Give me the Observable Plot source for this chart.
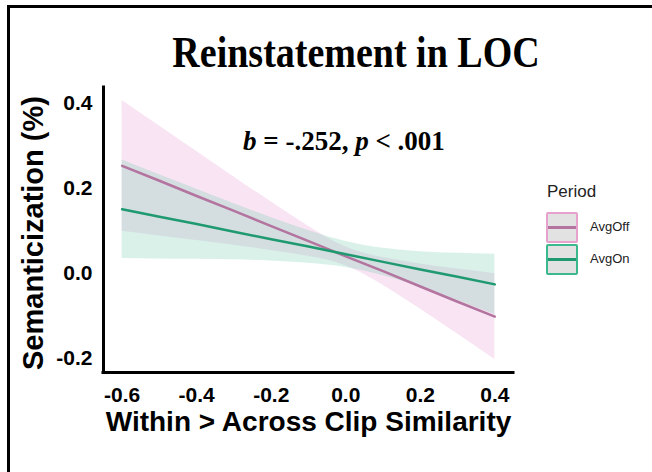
<!DOCTYPE html>
<html>
<head>
<meta charset="utf-8">
<script src="https://cdn.jsdelivr.net/npm/d3@7"></script>
<script src="https://cdn.jsdelivr.net/npm/@observablehq/plot@0.6"></script>
<style>
  html, body { margin: 0; padding: 0; background: #fff; }
  #wrap { position: relative; width: 652px; height: 472px; overflow: hidden; background: #fff; }
  #chart { position: absolute; left: 0; top: 0; }
  .border-top { position: absolute; left: 7px; top: 5px; width: 645px; height: 3px; background: #000; }
  .border-left { position: absolute; left: 7px; top: 5px; width: 3px; height: 467px; background: #000; }
  #title { position: absolute; left: 0; width: 712px; top: 30px; text-align: center;
           font-family: "Liberation Serif", "Times New Roman", serif; font-weight: bold; font-size: 38px; line-height: 46px; color: #000;
           transform: scaleY(1.15); transform-origin: 50% 70%; }
  #annot { position: absolute; left: 243px; top: 124px;
           font-family: "Liberation Serif", "Times New Roman", serif; font-weight: bold; font-size: 27px; line-height: 34px; color: #000; white-space: nowrap; }
  #legend { position: absolute; left: 546px; top: 181px; font-family: "Liberation Sans", Arial, sans-serif; color: #222; }
  #legend .ttl { font-size: 17px; line-height: 22px; margin-left: 1px; }
  #legend .item { position: relative; height: 32px; }
  #legend .key { position: absolute; left: 0; top: 0; width: 28px; height: 27px; background: #e2e2e2; border: 2px solid; border-radius: 2px; }
  #legend .key .ln { position: absolute; left: 0; right: 0; top: 12px; height: 3px; }
  #legend .lab { position: absolute; left: 44px; top: 7px; font-size: 13px; line-height: 16px; }
</style>
</head>
<body>
<div id="wrap">
  <div id="chart"></div>
  <div class="border-top"></div>
  <div class="border-left"></div>
  <div id="title"></div>
  <div id="annot"></div>
  <div id="legend"></div>
</div>
<script>
// ---- data ----
const titleText = "Reinstatement in LOC";
const xLabel = "Within > Across Clip Similarity";
const yLabel = "Semanticization (%)";
const legendTitle = "Period";
const periods = ["AvgOff", "AvgOn"];

const xs = [-0.6, -0.5, -0.4, -0.3, -0.2, -0.1, 0.0, 0.1, 0.2, 0.3, 0.4];
// AvgOff: fitted line and confidence band
const offFit  = [0.253, 0.218, 0.182, 0.147, 0.111, 0.076, 0.040, 0.005, -0.031, -0.067, -0.102];
const offLow  = [0.099, 0.088, 0.077, 0.066, 0.054, 0.040, 0.018, -0.028, -0.084, -0.143, -0.203];
const offHigh = [0.407, 0.347, 0.287, 0.227, 0.168, 0.111, 0.062, 0.037, 0.022, 0.010, -0.001];
// AvgOn: fitted line and confidence band
const onFit  = [0.151, 0.133, 0.116, 0.098, 0.080, 0.063, 0.045, 0.027, 0.009, -0.008, -0.026];
const onLow  = [0.035, 0.034, 0.033, 0.032, 0.029, 0.024, 0.014, -0.005, -0.032, -0.064, -0.097];
const onHigh = [0.267, 0.232, 0.198, 0.164, 0.131, 0.101, 0.075, 0.059, 0.051, 0.047, 0.045];

const xTicks = [-0.6, -0.4, -0.2, 0.0, 0.2, 0.4];
const xTickLabels = ["-0.6", "-0.4", "-0.2", "0.0", "0.2", "0.4"];
const yTicks = [-0.2, 0.0, 0.2, 0.4];
const yTickLabels = ["-0.2", "0.0", "0.2", "0.4"];

const statParts = [["b", true], [" = -.252, ", false], ["p", true], [" < .001", false]];

// ---- styling ----
const colors = {
  AvgOff: { line: "#b3749f", band: "#e8a6d8", bandOpacity: 0.3, border: "#e6a2cc" },
  AvgOn:  { line: "#1f9a70", band: "#66c9a6", bandOpacity: 0.25, border: "#3cb98c" }
};

const offRows = xs.map((x, i) => ({ x, fit: offFit[i], lo: offLow[i], hi: offHigh[i] }));
const onRows  = xs.map((x, i) => ({ x, fit: onFit[i],  lo: onLow[i],  hi: onHigh[i] }));

const xDomain = [-0.65, 0.45];
const yDomain = [-0.2335, 0.4375];

const fmtFrom = (ticks, labels) => d => {
  const k = ticks.findIndex(t => Math.abs(t - d) < 1e-9);
  return k >= 0 ? labels[k] : "";
};

const chart = Plot.plot({
  width: 652,
  height: 472,
  marginLeft: 103,
  marginRight: 139,
  marginTop: 87,
  marginBottom: 100,
  style: { background: "transparent", color: "#000", fontFamily: "'Liberation Sans', Arial, sans-serif" },
  x: { domain: xDomain },
  y: { domain: yDomain },
  marks: [
    Plot.areaY(offRows, { x: "x", y1: "lo", y2: "hi", fill: colors.AvgOff.band, fillOpacity: colors.AvgOff.bandOpacity, curve: "natural" }),
    Plot.areaY(onRows,  { x: "x", y1: "lo", y2: "hi", fill: colors.AvgOn.band,  fillOpacity: colors.AvgOn.bandOpacity,  curve: "natural" }),
    Plot.lineY(offRows, { x: "x", y: "fit", stroke: colors.AvgOff.line, strokeWidth: 2.5 }),
    Plot.lineY(onRows,  { x: "x", y: "fit", stroke: colors.AvgOn.line,  strokeWidth: 2.5 }),
    Plot.ruleX([xDomain[0]], { stroke: "#000", strokeWidth: 3, strokeLinecap: "square" }),
    Plot.ruleY([yDomain[0]], { stroke: "#000", strokeWidth: 3, strokeLinecap: "square" }),
    Plot.axisX({ ticks: xTicks, tickFormat: fmtFrom(xTicks, xTickLabels), tickSize: 0, tickPadding: 15,
                 fontSize: 21, fontWeight: "bold", fill: "#000", label: null }),
    Plot.axisY({ ticks: yTicks, tickFormat: fmtFrom(yTicks, yTickLabels), tickSize: 0, tickPadding: 11,
                 fontSize: 21, fontWeight: "bold", fill: "#000", label: null }),
    Plot.text([xLabel], { text: d => d, frameAnchor: "bottom", dy: 50, lineAnchor: "middle", textAnchor: "middle",
                          fontSize: 28, fontWeight: "bold", fill: "#000" }),
    Plot.text([yLabel], { text: d => d, frameAnchor: "left", dx: -70, dy: 3, rotate: -90, lineAnchor: "middle", textAnchor: "middle",
                          fontSize: 29, fontWeight: "bold", fill: "#000" })
  ]
});
document.getElementById("chart").appendChild(chart);

// title
document.getElementById("title").textContent = titleText;

// annotation with italic parts
const annot = document.getElementById("annot");
statParts.forEach(([t, it]) => {
  const s = document.createElement(it ? "i" : "span");
  s.textContent = t;
  annot.appendChild(s);
});

// legend
const legend = document.getElementById("legend");
const lt = document.createElement("div");
lt.className = "ttl";
lt.textContent = legendTitle;
legend.appendChild(lt);
const sp = document.createElement("div");
sp.style.height = "9px";
legend.appendChild(sp);
periods.forEach(p => {
  const item = document.createElement("div");
  item.className = "item";
  const key = document.createElement("div");
  key.className = "key";
  key.style.borderColor = colors[p].border;
  const ln = document.createElement("div");
  ln.className = "ln";
  ln.style.background = colors[p].line;
  key.appendChild(ln);
  const lab = document.createElement("div");
  lab.className = "lab";
  lab.textContent = p;
  item.appendChild(key);
  item.appendChild(lab);
  legend.appendChild(item);
});
</script>
</body>
</html>
